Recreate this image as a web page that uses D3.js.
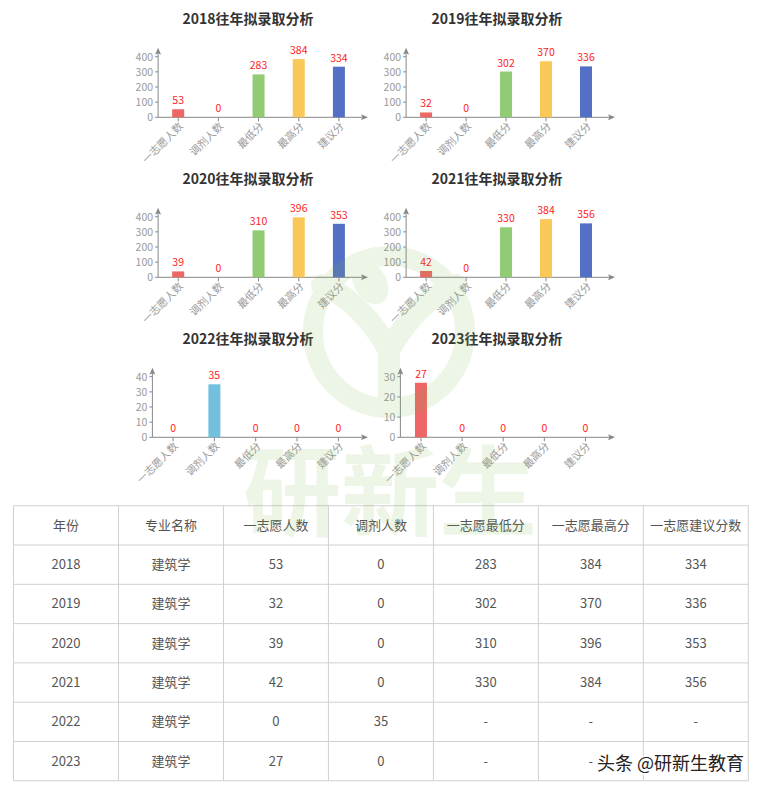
<!DOCTYPE html>
<html><head><meta charset="utf-8">
<script src="https://cdn.jsdelivr.net/npm/d3@7/dist/d3.min.js"></script>
<style>
html,body{margin:0;padding:0;background:#fff;}
svg{display:block;font-family:"Noto Sans CJK SC","Noto Sans",sans-serif;}
</style></head>
<body>
<svg id="c" width="778" height="790"></svg>
<script>
const years = ['2018','2019','2020','2021','2022','2023'];
const categories = ['一志愿人数','调剂人数','最低分','最高分','建议分'];
const firstChoice = [53,32,39,42,0,27];
const adjusted = [0,0,0,0,35,0];
const minScore = [283,302,310,330,null,null];
const maxScore = [384,370,396,384,null,null];
const suggested = [334,336,353,356,null,null];
const yAxisMax = [400,400,400,400,40,30];
const major = '建筑学';
const tableHeaders = ['年份','专业名称','一志愿人数','调剂人数','一志愿最低分','一志愿最高分','一志愿建议分数'];
const titleSuffix = '往年拟录取分析';
const barColors = ['#ee6666','#73c0de','#91cc75','#fac858','#5470c6'];

const svg = d3.select('#c');

function drawChart(i){
  const col = i % 2, row = Math.floor(i/2);
  const chartLeft = col ? 384 : 136;
  const bandEnd = col ? 606 : 359;
  const zeroY = 117.3 + row*160;
  const topY = zeroY - 60.6;
  const vals = [firstChoice[i], adjusted[i], minScore[i]||0, maxScore[i]||0, suggested[i]||0];
  const maxLabel = String(yAxisMax[i]).length;
  const axisX = chartLeft + maxLabel*5.7 + 5;
  const g = svg.append('g');
  g.append('text').attr('x', col ? 497 : 248).attr('y', 24 + row*160)
    .attr('text-anchor','middle').attr('font-size',14).attr('font-weight','bold')
    .attr('fill','#333').text(years[i] + titleSuffix);
  const x = d3.scaleBand().domain(categories).range([axisX, bandEnd]);
  const y = d3.scaleLinear().domain([0, yAxisMax[i]]).range([zeroY, topY]);
  const yt = y.ticks(4);
  yt.forEach(t=>{
    g.append('text').attr('x', axisX-5).attr('y', y(t)+4).attr('text-anchor','end')
      .attr('font-size',10.5).attr('fill','#999').text(t);
    g.append('line').attr('x1',axisX-3).attr('x2',axisX).attr('y1',y(t)).attr('y2',y(t))
      .attr('stroke','#888').attr('stroke-width',1);
  });
  g.append('line').attr('x1',axisX).attr('x2',axisX).attr('y1',zeroY).attr('y2',topY-5)
    .attr('stroke','#888').attr('stroke-width',1);
  g.append('path').attr('d',`M${axisX},${topY-9}l-3,7l3,-1.5l3,1.5z`).attr('fill','#888');
  g.append('line').attr('x1',axisX).attr('x2',bandEnd+5).attr('y1',zeroY).attr('y2',zeroY)
    .attr('stroke','#888').attr('stroke-width',1);
  g.append('path').attr('d',`M${bandEnd+9},${zeroY}l-7,-3l1.5,3l-1.5,3z`).attr('fill','#888');
  categories.forEach((c,k)=>{
    const cx = x(c)+x.bandwidth()/2;
    g.append('line').attr('x1',cx).attr('x2',cx).attr('y1',zeroY).attr('y2',zeroY+4)
      .attr('stroke','#888');
    g.append('text').attr('transform',`translate(${cx+3},${zeroY+7}) rotate(-45)`)
      .attr('text-anchor','end').attr('dy','0.35em').attr('font-size',10.5).attr('fill','#999').text(c);
    const v = vals[k];
    g.append('rect').attr('x',cx-6).attr('width',12).attr('y',y(v)).attr('height',zeroY-y(v))
      .attr('fill',barColors[k]);
    g.append('text').attr('x',cx).attr('y',y(v)-5).attr('text-anchor','middle')
      .attr('font-size',10.5).attr('fill','#f22').text(v);
  });
}
years.forEach((_,i)=>drawChart(i));

// table
const tx0 = 13.5, tx1 = 748.3, ty0 = 505.7, rowH = 39.3;
const colW = (tx1-tx0)/tableHeaders.length;
const tbl = svg.append('g');
const rows = [tableHeaders].concat(years.map((yr,i)=>[
  yr, major, firstChoice[i], adjusted[i],
  minScore[i]==null?'-':minScore[i], maxScore[i]==null?'-':maxScore[i], suggested[i]==null?'-':suggested[i]
]));
rows.forEach((r,ri)=>{
  r.forEach((v,ci)=>{
    tbl.append('text').attr('x',tx0+colW*(ci+0.5)).attr('y',ty0+rowH*(ri+0.5)+4.5)
      .attr('text-anchor','middle').attr('font-size',13).attr('fill','#555').text(v);
  });
});
for(let r=0;r<=rows.length;r++){
  tbl.append('line').attr('x1',tx0).attr('x2',tx1).attr('y1',ty0+rowH*r).attr('y2',ty0+rowH*r)
    .attr('stroke','#d0d0d0');
}
for(let c=0;c<=tableHeaders.length;c++){
  tbl.append('line').attr('x1',tx0+colW*c).attr('x2',tx0+colW*c).attr('y1',ty0).attr('y2',ty0+rowH*rows.length)
    .attr('stroke','#d0d0d0');
}

// background logo watermark
const wm = svg.append('g').attr('opacity',0.13).attr('pointer-events','none');
wm.append('circle').attr('cx',389).attr('cy',332).attr('r',76).attr('fill','none')
  .attr('stroke','#7db547').attr('stroke-width',20);
wm.append('path').attr('d','M322,285 Q360,300 389,350 Q418,300 456,285 M389,350 L389,405')
  .attr('fill','none').attr('stroke','#7db547').attr('stroke-width',22).attr('stroke-linecap','round');
wm.append('ellipse').attr('cx',370).attr('cy',282).attr('rx',16).attr('ry',24)
  .attr('transform','rotate(-30,370,282)').attr('fill','#7db547');
wm.append('text').attr('x',390).attr('y',528).attr('text-anchor','middle')
  .attr('font-size',98).attr('font-weight','bold').attr('fill','#7db547').text('研新生');

// source tag
svg.append('text').attr('x',597).attr('y',770).attr('font-size',18).attr('fill','#222')
  .attr('stroke','#fff').attr('stroke-width',3).attr('paint-order','stroke').text('头条 @研新生教育');
</script>
</body></html>
